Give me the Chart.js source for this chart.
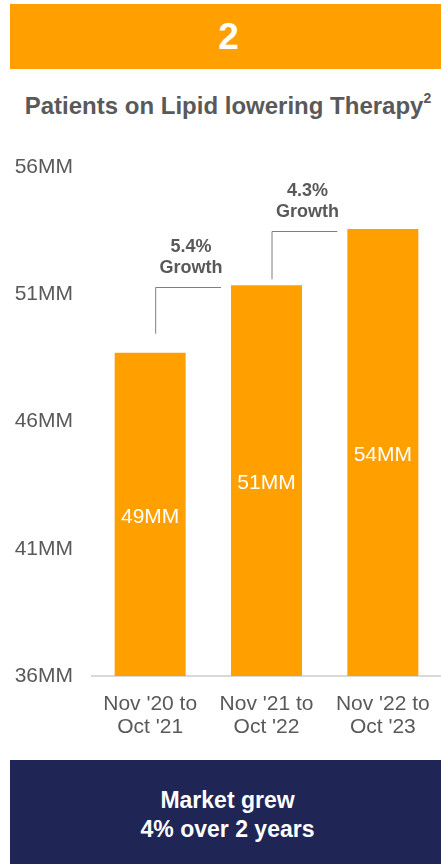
<!DOCTYPE html>
<html>
<head>
<meta charset="utf-8">
<script src="https://cdn.jsdelivr.net/npm/chart.js@4.4.1/dist/chart.umd.min.js"></script>
<style>
  html, body { margin: 0; padding: 0; background: #fff; }
  body { width: 441px; height: 864px; position: relative; overflow: hidden;
         font-family: "Liberation Sans", Arial, sans-serif; }
  .banner { position: absolute; left: 10px; top: 4px; width: 431px; height: 65px;
            background: #FF9F00; color: #fff; font-weight: bold; font-size: 37px;
            display: flex; align-items: center; justify-content: center;
            padding-left: 6px; box-sizing: border-box; }
  .title { position: absolute; left: 0; top: 92px; width: 441px; padding-left: 15px; box-sizing: border-box;
           text-align: center; color: #595959; font-weight: bold; font-size: 24px; white-space: nowrap; }
  .title sup { font-size: 14px; position: relative; top: -2px; }
  #chartWrap { position: absolute; left: 0; top: 140px; width: 441px; height: 600px; }
  .footer { position: absolute; left: 10px; top: 760px; width: 431px; height: 104px;
            background: #1F2555; color: #fff; font-weight: bold; font-size: 23px;
            line-height: 29px; text-align: center; display: flex; align-items: center;
            justify-content: center; padding: 6px 0 0 4px; box-sizing: border-box; }
</style>
</head>
<body>
<div class="banner">2</div>
<div class="title">Patients on Lipid lowering Therapy<sup>2</sup></div>
<div id="chartWrap"><canvas id="chartLipid" width="441" height="600"></canvas></div>
<div class="footer"><div>Market grew<br>4% over 2 years</div></div>

<script>
// Patients on lipid lowering therapy, millions, by 12-month window
const periods = [["Nov '20 to", "Oct '21"], ["Nov '21 to", "Oct '22"], ["Nov '22 to", "Oct '23"]];
const patientsMM = [48.7, 51.35, 53.56];
const yTicks = [36, 41, 46, 51, 56];

const ORANGE = '#FF9F00';
const GREY = '#595959';
const FONT = '"Liberation Sans", Arial, sans-serif';

// ─── Value labels centred inside each bar ─────────────────────────────────────
const barValues = {
  id: 'barValues',
  afterDraw(chart) {
    const ctx = chart.ctx;
    const yScale = chart.scales.y;
    const meta = chart.getDatasetMeta(0);
    const yBase = yScale.getPixelForValue(yScale.min);
    ctx.save();
    ctx.fillStyle = '#FFFFFF';
    ctx.font = '21px ' + FONT;
    ctx.textAlign = 'center';
    ctx.textBaseline = 'middle';
    patientsMM.forEach((v, i) => {
      const yTop = yScale.getPixelForValue(v);
      ctx.fillText(Math.round(v) + 'MM', meta.data[i].x, (yTop + yBase) / 2 + 3);
    });
    ctx.restore();
  }
};

// ─── Growth brackets between consecutive bars ─────────────────────────────────
const growthBrackets = {
  id: 'growthBrackets',
  afterDatasetsDraw(chart, args, opts) {
    const ctx = chart.ctx;
    const bars = chart.getDatasetMeta(0).data;
    ctx.save();
    for (let i = 0; i < bars.length - 1; i++) {
      const a = bars[i], b = bars[i + 1];
      const x0 = a.x + 5;
      const x1 = b.x - b.width / 2 - 10;
      const yBottom = a.y - opts.gaps[i];
      const yTop = b.y + 2;
      ctx.strokeStyle = '#7F7F7F';
      ctx.lineWidth = 1;
      ctx.beginPath();
      ctx.moveTo(x0 + 0.5, yBottom);
      ctx.lineTo(x0 + 0.5, Math.round(yTop) + 0.5);
      ctx.lineTo(x1, Math.round(yTop) + 0.5);
      ctx.stroke();

      const pct = ((patientsMM[i + 1] / patientsMM[i] - 1) * 100).toFixed(1) + '%';
      const cx = (x0 + x1) / 2 + 3;
      ctx.fillStyle = GREY;
      ctx.font = 'bold 18px ' + FONT;
      ctx.textAlign = 'center';
      ctx.textBaseline = 'middle';
      ctx.fillText(pct, cx, yTop - 40);
      ctx.fillText('Growth', cx, yTop - 19);
    }
    ctx.restore();
  }
};

new Chart(document.getElementById('chartLipid'), {
  type: 'bar',
  data: {
    labels: periods,
    datasets: [{
      data: patientsMM,
      backgroundColor: ORANGE,
      categoryPercentage: 1,
      barPercentage: 0.61,
    }],
  },
  options: {
    responsive: false,
    devicePixelRatio: 1,
    animation: false,
    layout: { padding: { top: 27, right: 0, left: 0, bottom: 0 } },
    plugins: {
      legend: { display: false },
      tooltip: { enabled: false },
      growthBrackets: { gaps: [19, 6] },
    },
    scales: {
      x: {
        grid: { display: false },
        border: { color: '#D9D9D9', width: 2 },
        ticks: { color: GREY, font: { family: FONT, size: 21, lineHeight: 1.1 }, padding: 9, maxRotation: 0 },
        afterFit: s => { s.height = 64; },
      },
      y: {
        min: 36,
        max: 56,
        afterBuildTicks: s => { s.ticks = yTicks.map(v => ({ value: v })); },
        grid: { display: false },
        border: { display: false },
        ticks: { color: GREY, font: { family: FONT, size: 21 }, padding: 11, callback: v => v + 'MM' },
        afterFit: s => { s.width = 92; },
      },
    },
  },
  plugins: [barValues, growthBrackets],
});
</script>
</body>
</html>
